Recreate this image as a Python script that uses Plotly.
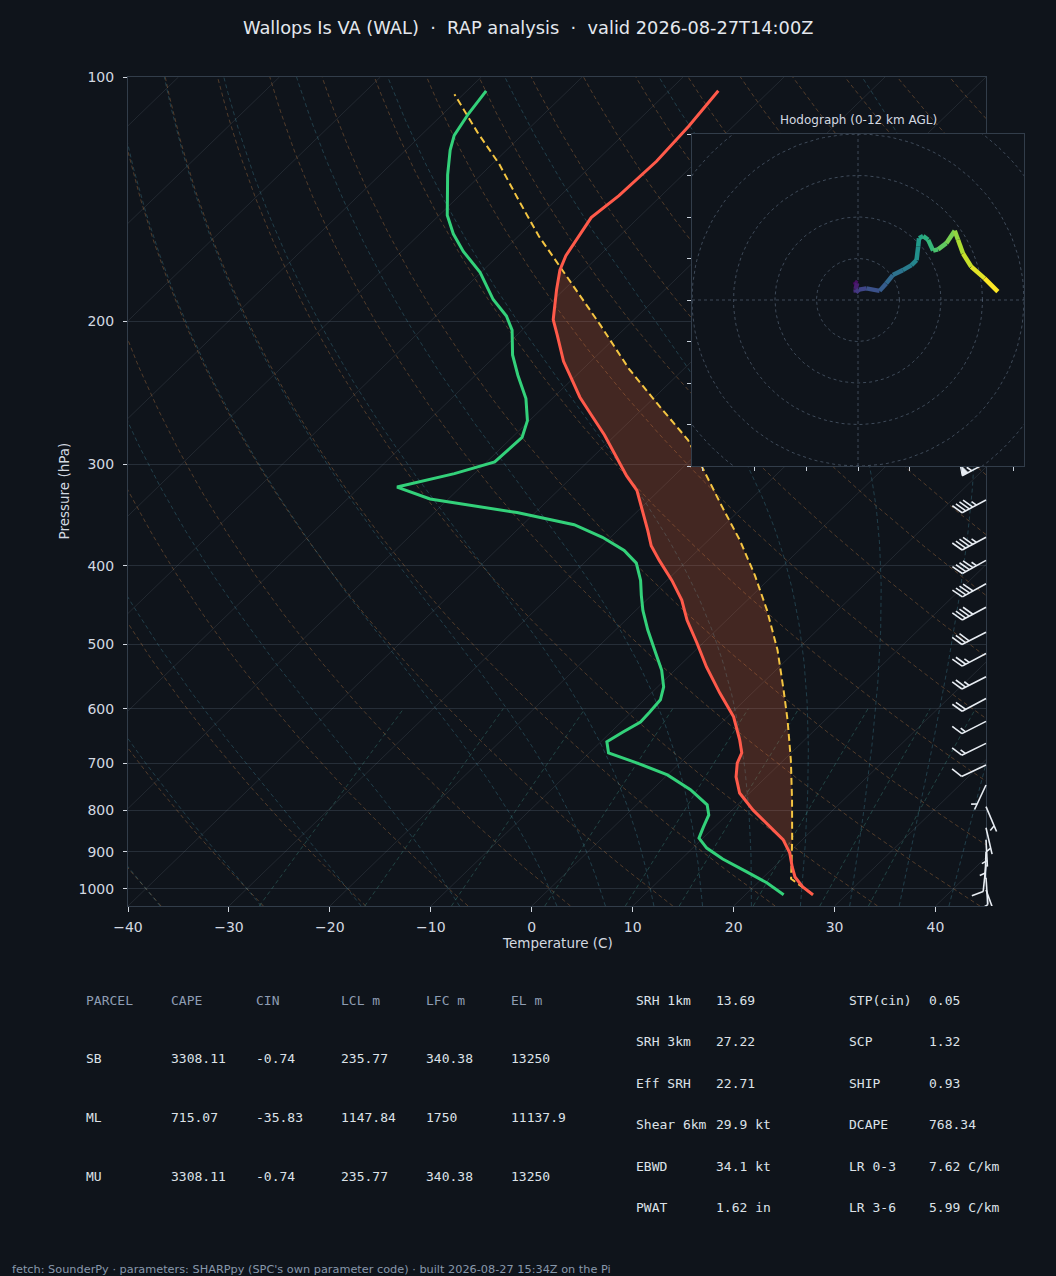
import numpy as np
import plotly.graph_objects as go
from plotly.colors import sample_colorscale

TITLE = "Wallops Is VA (WAL)  \u00b7  RAP analysis  \u00b7  valid 2026-08-27T14:00Z"
FOOTER = ("fetch: SounderPy \u00b7 parameters: SHARPpy (SPC's own parameter code) "
          "\u00b7 built 2026-08-27 15:34Z on the Pi")

# --- sounding (hPa, degC) ---
temp_p = [1017, 995, 967, 940, 903, 870, 839, 800, 762, 728, 700, 680, 656, 614,
          574, 533, 498, 467, 441, 417, 394, 378, 362, 342, 323, 310, 295, 276,
          261, 248, 235, 224, 208, 199, 183, 173, 166, 157, 149, 140, 127, 115, 104]
temp_c = [26.7, 24.9, 23.1, 21.8, 20.1, 18.1, 15.5, 12.1, 9.0, 7.0, 5.7, 5.1, 3.6, 0.6,
          -3.2, -7.2, -10.6, -13.9, -16.5, -19.5, -22.8, -25.1, -27.0, -29.6, -32.2,
          -34.7, -37.4, -41.1, -44.4, -47.4, -50.2, -52.7, -56.0, -58.0, -60.7, -62.4,
          -63.3, -64.0, -64.7, -64.2, -64.0, -64.4, -65.1]

dwpt_p = [1017, 983, 953, 919, 891, 866, 839, 811, 788, 755, 724, 700, 680, 659,
          641, 623, 606, 585, 564, 538, 513, 480, 454, 435, 417, 397, 383, 369, 356,
          344, 331, 320, 308, 298, 278, 265, 249, 233, 220, 205, 197, 188, 174, 164,
          156, 148, 132, 123, 118, 111, 104]
dwpt_c = [23.8, 20.9, 17.8, 14.1, 11.4, 9.6, 8.9, 8.2, 7.0, 3.8, 0.0, -4.2, -8.1, -9.4,
          -8.8, -8.1, -8.2, -8.4, -9.4, -11.3, -13.6, -16.8, -19.3, -21.0, -22.6, -24.8,
          -27.3, -30.8, -34.9, -41.8, -51.8, -56.3, -52.0, -49.2, -49.0, -50.2, -52.6,
          -55.8, -58.4, -61.0, -63.0, -66.0, -70.1, -73.9, -76.7, -79.2, -83.3, -85.6,
          -86.7, -87.5, -88.1]

parcel_p = [1017, 983, 972, 870, 777, 694, 620, 569, 508, 454, 411, 372, 337, 307,
            280, 254, 229, 202, 182, 171, 157, 142, 128, 117, 105]
parcel_c = [26.7, 23.9, 22.9, 19.0, 14.9, 10.7, 6.3, 2.8, -1.9, -7.0, -11.8, -16.9,
            -22.3, -27.3, -32.3, -38.7, -45.4, -52.8, -59.1, -62.9, -68.0, -73.6,
            -79.3, -84.7, -90.9]

# wind barbs (hPa, deg from, kt)
barb_p = [299, 332, 369, 394, 421, 450, 483, 513, 548, 583, 622, 662, 704, 745,
          792, 841, 870, 901, 934, 969, 1003]
barb_dir = [242, 242, 242, 241, 241, 242, 243, 242, 243, 242, 243, 244, 245, 205,
            157, 167, 177, 182, 186, 176, 160]
barb_kt = [55, 45, 45, 45, 40, 40, 30, 25, 25, 20, 15, 15, 10, 5,
           5, 5, 5, 5, 10, 10, 15]

# hodograph 0-12 km
hodo_u = [-0.4, -0.8, -0.2, -0.6, -0.5, 0.2, 2.0, 5.2, 6.8, 8.4, 10.8, 12.9, 14.1,
          14.5, 14.7, 15.7, 16.9, 18.1, 19.3, 21.3, 23.3, 24.1, 25.3, 27.3, 30.5, 33.7]
hodo_v = [3.6, 4.4, 4.0, 2.6, 1.8, 2.5, 2.8, 2.2, 4.0, 6.0, 7.2, 8.4, 9.6,
          12.9, 14.9, 15.4, 14.5, 11.9, 12.2, 13.7, 16.7, 14.5, 11.2, 8.0, 5.2, 2.0]

# parameter tables
parcel_head = ["PARCEL", "CAPE", "CIN", "LCL m", "LFC m", "EL m"]
parcel_rows = [["SB", "3308.11", "-0.74", "235.77", "340.38", "13250"],
               ["ML", "715.07", "-35.83", "1147.84", "1750", "11137.9"],
               ["MU", "3308.11", "-0.74", "235.77", "340.38", "13250"]]
kin_names = ["SRH 1km", "SRH 3km", "Eff SRH", "Shear 6km", "EBWD", "PWAT"]
kin_vals = ["13.69", "27.22", "22.71", "29.9 kt", "34.1 kt", "1.62 in"]
comp_names = ["STP(cin)", "SCP", "SHIP", "DCAPE", "LR 0-3", "LR 3-6"]
comp_vals = ["0.05", "1.32", "0.93", "768.34", "7.62 C/km", "5.99 C/km"]

# background reference lines
dry_t0 = list(range(-40, 250, 10))
moist_t0 = list(range(-40, 0, 10)) + list(range(0, 50, 5))
mix_w = [0.0004, 0.001, 0.002, 0.004, 0.007, 0.01, 0.016, 0.024, 0.032]
isotherms = list(range(-130, 50, 10))

# --- styling / geometry ---
BG = "#0f141b"
TXT = "#d3d9e1"
SPINE = "#323d4a"
GRID = "#262e38"
W, H = 1056, 1276
AX_L, AX_R, AX_T, AX_B = 128, 986, 77, 906
P_BOT, P_TOP = 1050.0, 100.0
T_LO, T_HI = -40, 45
LOGSPAN = np.log10(P_BOT / P_TOP)
PPD = (AX_B - AX_T) / LOGSPAN
HOD = (692, 1024, 134, 466)


def skew(t, p):
    t = np.asarray(t, float)
    p = np.asarray(p, float)
    return t + (T_HI - T_LO) * np.log10(P_BOT / p) / LOGSPAN


def joined(segs):
    xs, ys = [], []
    for x, y in segs:
        xs += list(x) + [None]
        ys += list(y) + [None]
    return xs, ys


fig = go.Figure()


def bgline(segs, color, dash=None):
    xs, ys = joined(segs)
    fig.add_trace(go.Scatter(x=xs, y=ys, mode="lines", hoverinfo="skip",
                             line=dict(color=color, width=1, dash=dash)))


# isotherms
bgline([(skew([t, t], [P_BOT, P_TOP]), [P_BOT, P_TOP]) for t in isotherms],
       "rgba(150,160,172,0.15)")

# dry adiabats
pg = np.geomspace(P_BOT, P_TOP, 120)
bgline([(skew((t + 273.15) * (pg / 1000.0) ** 0.2857 - 273.15, pg), pg) for t in dry_t0],
       "rgba(200,130,70,0.36)", "4px,3px")

# moist adiabats (pseudo-adiabatic, RK4 from 1000 hPa)
RD, CPD, LV, EPS = 287.04, 1005.7, 2.501e6, 0.622


def lapse(T, p):
    es = 6.112 * np.exp(17.67 * (T - 273.15) / (T - 29.65))
    rs = EPS * es / (p - es)
    return (RD * T + LV * rs) / (CPD + LV * LV * rs * EPS / (RD * T * T)) / p


def integrate(t0, plev):
    T = np.array(t0, float) + 273.15
    out = [T.copy()]
    for a, b in zip(plev[:-1], plev[1:]):
        h = b - a
        k1 = lapse(T, a)
        k2 = lapse(T + h * k1 / 2, a + h / 2)
        k3 = lapse(T + h * k2 / 2, a + h / 2)
        k4 = lapse(T + h * k3, b)
        T = T + h * (k1 + 2 * k2 + 2 * k3 + k4) / 6
        out.append(T.copy())
    return np.array(out) - 273.15


p_up = np.geomspace(1000, P_TOP, 160)
p_dn = np.geomspace(1000, P_BOT, 6)
m_up = integrate(moist_t0, p_up)
m_dn = integrate(moist_t0, p_dn)
p_m = np.concatenate([p_dn[::-1], p_up[1:]])
segs = []
for i in range(len(moist_t0)):
    tm = np.concatenate([m_dn[::-1, i], m_up[1:, i]])
    segs.append((skew(tm, p_m), p_m))
bgline(segs, "rgba(70,150,170,0.33)", "4px,3px")

# mixing-ratio lines
pw = np.geomspace(P_BOT, 600, 40)
segs = []
for w in mix_w:
    e = w * pw / (EPS + w)
    lg = np.log(e / 6.112)
    td = 243.5 * lg / (17.67 - lg)
    segs.append((skew(td, pw), pw))
bgline(segs, "rgba(70,165,150,0.33)", "4px,3px")

# CAPE shading between parcel and environment
pc = np.geomspace(min(temp_p[0], parcel_p[0]), max(temp_p[-1], parcel_p[-1]), 500)
tp = np.interp(-np.log(pc), -np.log(temp_p), temp_c)
pp = np.interp(-np.log(pc), -np.log(parcel_p), parcel_c)
pos = pp > tp
xs, ys = [], []
i = 0
while i < len(pc):
    if pos[i]:
        j = i
        while j < len(pc) and pos[j]:
            j += 1
        sl = slice(i, j)
        xs += list(skew(pp[sl], pc[sl])) + list(skew(tp[sl], pc[sl])[::-1]) + [None]
        ys += list(pc[sl]) + list(pc[sl][::-1]) + [None]
        i = j
    else:
        i += 1
fig.add_trace(go.Scatter(x=xs, y=ys, mode="lines", fill="toself", hoverinfo="skip",
                         fillcolor="rgba(255,110,60,0.22)", line=dict(width=0)))

fig.add_trace(go.Scatter(x=skew(parcel_c, parcel_p), y=parcel_p, mode="lines",
                         line=dict(color="#f4c542", width=2, dash="7px,4px")))
fig.add_trace(go.Scatter(x=skew(temp_c, temp_p), y=temp_p, mode="lines",
                         line=dict(color="#ff5a4a", width=3)))
fig.add_trace(go.Scatter(x=skew(dwpt_c, dwpt_p), y=dwpt_p, mode="lines",
                         line=dict(color="#33d17a", width=3)))

# --- wind barbs (overlay axes in pixel units along x) ---
BL = 27.0
BH, BW, BS = 0.4 * BL, 0.25 * BL, 0.15 * BL
X0 = AX_R - AX_L
lx, ly, fx, fy = [], [], [], []
for p0, wd, spd in zip(barb_p, barb_dir, barb_kt):
    th = np.radians(wd)
    d = np.array([np.sin(th), np.cos(th)])
    f = np.array([d[1], -d[0]])

    def pt(v):
        return X0 + v[0], p0 * 10 ** (-v[1] / PPD)

    def add(vs, fill=False):
        pts = [pt(v) for v in vs]
        if fill:
            fx.extend([q[0] for q in pts] + [None])
            fy.extend([q[1] for q in pts] + [None])
        else:
            lx.extend([q[0] for q in pts] + [None])
            ly.extend([q[1] for q in pts] + [None])

    add([0 * d, BL * d])
    s = 5 * round(spd / 5)
    n50, rem = divmod(s, 50)
    n10, rem = divmod(rem, 10)
    off = BL
    for _ in range(n50):
        add([off * d, (off - BW / 2) * d + BH * f, (off - BW) * d], fill=True)
        off -= BW + BS
    for _ in range(n10):
        add([off * d, (off + BH / 2) * d + BH * f])
        off -= BS
    if rem >= 5:
        if off == BL:
            off -= 1.5 * BS
        add([off * d, (off + BH / 4) * d + BH / 2 * f])

fig.add_trace(go.Scatter(x=fx, y=fy, xaxis="x2", yaxis="y2", mode="lines", fill="toself",
                         fillcolor="#e8edf3", line=dict(color="#e8edf3", width=1),
                         hoverinfo="skip"))
fig.add_trace(go.Scatter(x=lx, y=ly, xaxis="x2", yaxis="y2", mode="lines",
                         line=dict(color="#e8edf3", width=1.6), hoverinfo="skip"))

# --- hodograph inset ---
R = 40
fig.add_trace(go.Scatter(x=[-R, R, R, -R, -R], y=[-R, -R, R, R, -R], xaxis="x3", yaxis="y3",
                         mode="lines", fill="toself", fillcolor=BG, line=dict(width=0),
                         hoverinfo="skip"))
ang = np.linspace(0, 2 * np.pi, 181)
segs = [(r * np.cos(ang), r * np.sin(ang)) for r in range(10, 70, 10)]
segs += [([-R, R], [0, 0]), ([0, 0], [-R, R])]
xs, ys = joined(segs)
fig.add_trace(go.Scatter(x=xs, y=ys, xaxis="x3", yaxis="y3", mode="lines", hoverinfo="skip",
                         line=dict(color="rgba(120,140,165,0.45)", width=1, dash="3px,3px")))
n = len(hodo_u)
cols = sample_colorscale("Viridis", [k / (n - 2) for k in range(n - 1)])
for k in range(n - 1):
    fig.add_trace(go.Scatter(x=hodo_u[k:k + 2], y=hodo_v[k:k + 2], xaxis="x3", yaxis="y3",
                             mode="lines", line=dict(color=cols[k], width=4.5),
                             hoverinfo="skip"))

# --- text ---
ann = []


def text(x, y, s, size=13, color=TXT, family="DejaVu Sans Mono", xa="left", **kw):
    ann.append(dict(x=x / W, y=1 - y / H, xref="paper", yref="paper", text=s,
                    showarrow=False, xanchor=xa, yanchor="middle",
                    font=dict(family=family, size=size, color=color), **kw))


text(528, 27, TITLE, size=17.8, color="#e4e8ee", family="DejaVu Sans", xa="center")
text((AX_L + AX_R) / 2, 943, "Temperature (C)", size=13.5, family="DejaVu Sans", xa="center")
text(63, (AX_T + AX_B) / 2, "Pressure (hPa)", size=13.5, family="DejaVu Sans", xa="center",
     textangle=-90)
text((HOD[0] + HOD[1]) / 2, 120, "Hodograph (0-12 km AGL)", size=12, family="DejaVu Sans",
     xa="center")

col_x = [84, 169, 254, 339, 424, 509]
for cx, h in zip(col_x, parcel_head):
    text(cx, 1000, h, color="#8e9db3")
for ry, row in zip([1058, 1117, 1176], parcel_rows):
    for cx, v in zip(col_x, row):
        text(cx, ry, v, color="#dde2e8")
for k, ry in enumerate([1000, 1041, 1083, 1124, 1166, 1207]):
    text(634, ry, kin_names[k], color="#dde2e8")
    text(714, ry, kin_vals[k], color="#dde2e8")
    text(847, ry, comp_names[k], color="#dde2e8")
    text(927, ry, comp_vals[k], color="#dde2e8")
text(10, 1269, FOOTER, size=11.3, color="#8898ab", family="DejaVu Sans")

tick_font = dict(family="DejaVu Sans", size=14, color=TXT)
fig.update_layout(
    template="none",
    width=W, height=H, autosize=False, showlegend=False,
    margin=dict(l=0, r=0, t=0, b=0, pad=0),
    paper_bgcolor=BG, plot_bgcolor="rgba(0,0,0,0)",
    annotations=ann,
    xaxis=dict(domain=[AX_L / W, AX_R / W], range=[T_LO, T_HI], anchor="y",
               tickvals=list(range(-40, 41, 10)), ticks="outside", ticklen=5,
               tickcolor=TXT, tickfont=tick_font, showgrid=False, zeroline=False,
               showline=True, mirror=True, linecolor=SPINE, linewidth=1,
               ticklabelstandoff=3, automargin=False),
    yaxis=dict(domain=[1 - AX_B / H, 1 - AX_T / H], type="log",
               range=[np.log10(P_BOT), np.log10(P_TOP)], anchor="x",
               tickvals=list(range(100, 1001, 100)), ticktext=[str(v) for v in range(100, 1001, 100)],
               ticks="outside", ticklen=4, tickcolor=TXT, tickfont=tick_font,
               showgrid=True, gridcolor=GRID, gridwidth=1, zeroline=False,
               showline=True, mirror=True, linecolor=SPINE, linewidth=1,
               ticklabelstandoff=6, automargin=False),
    xaxis2=dict(domain=[AX_L / W, 1.0], range=[0, W - AX_L], anchor="y2", visible=False,
                automargin=False),
    yaxis2=dict(domain=[1 - AX_B / H, 1 - AX_T / H], type="log",
                range=[np.log10(P_BOT), np.log10(P_TOP)], anchor="x2", visible=False,
                automargin=False),
    xaxis3=dict(domain=[HOD[0] / W, HOD[1] / W], range=[-R, R], anchor="y3",
                tickvals=[-37.5, -25, -12.5, 0, 12.5, 25, 37.5], showticklabels=False,
                ticks="outside", ticklen=4, tickcolor="#c8d0da", showgrid=False,
                zeroline=False, showline=True, mirror=True, linecolor=SPINE, automargin=False),
    yaxis3=dict(domain=[1 - HOD[3] / H, 1 - HOD[2] / H], range=[-R, R], anchor="x3",
                tickvals=list(range(-40, 41, 10)), showticklabels=False,
                ticks="outside", ticklen=4, tickcolor="#c8d0da", showgrid=False,
                zeroline=False, showline=True, mirror=True, linecolor=SPINE, automargin=False),
)

fig.write_html("out.html", config={"displayModeBar": False},
               post_script="document.body.style.margin='0';"
                           "document.body.style.background='" + BG + "';")
